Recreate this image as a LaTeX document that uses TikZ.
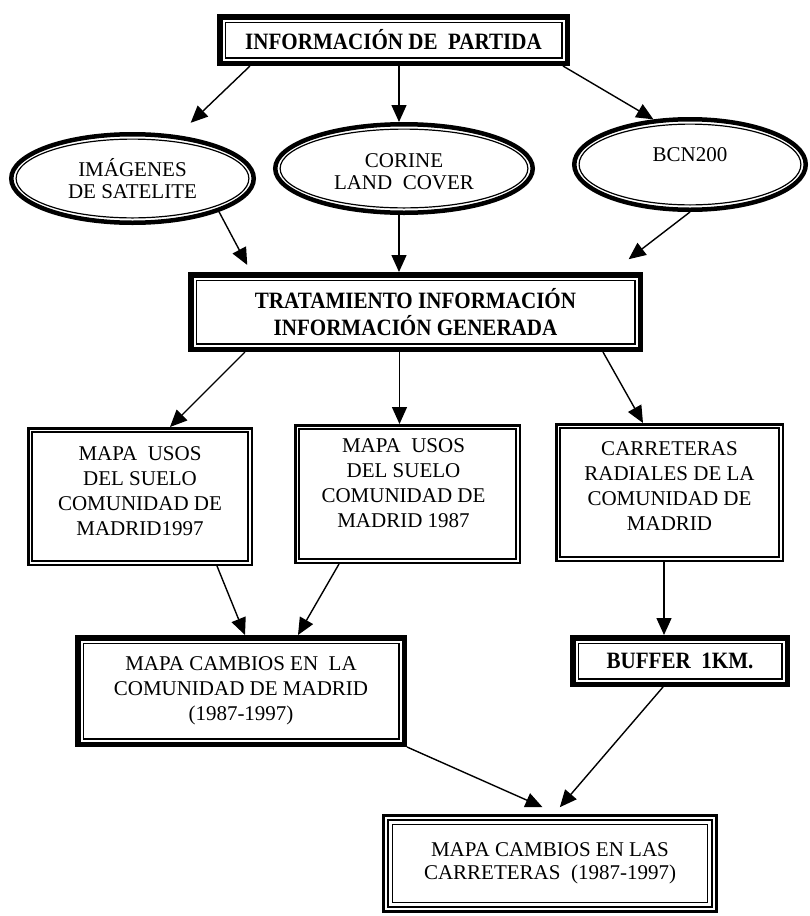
\documentclass[tikz,border=0pt]{standalone}
\usepackage{fontspec}
\setmainfont{Liberation Serif}[BoldFeatures={FakeStretch=0.9}]
\usetikzlibrary{arrows.meta,shapes.geometric,calc}
\tikzset{
  heavy/.style={draw, line width=5.5pt, rectangle, inner sep=0pt},
  light/.style={draw, line width=2.5pt, rectangle, inner sep=0pt},
  finbox/.style={draw, line width=3pt, rectangle, inner sep=0pt},
  oval/.style={draw, line width=4.5pt, ellipse, inner sep=0pt},
  inline/.style={line width=1.2pt},
  txt/.style={font=\fontsize{21}{25}\selectfont, align=center, inner sep=0pt},
  etxt/.style={font=\fontsize{21}{22}\selectfont, align=center, inner sep=0pt},
  btxt/.style={font=\bfseries\fontsize{23.4}{27.5}\selectfont, align=center},
  arr/.style={line width=1.4pt, -{Triangle[length=17pt,width=15pt]}},
}
\newcommand\innerrect[2]{\draw[inline] ([shift={(#2,#2)}]#1.north west) rectangle ([shift={(-#2,-#2)}]#1.south east);}
\begin{document}
\begin{tikzpicture}[x=1pt,y=-1pt]
\useasboundingbox (0,0) rectangle (809,916);

% top box
\node[heavy, btxt, minimum width=347.5pt, minimum height=46.5pt] (top) at (393.5,40) {INFORMACIÓN DE\ \ PARTIDA};
\innerrect{top}{8.1}

% ellipses
\node[oval, minimum width=242.5pt, minimum height=88.5pt] (e1) at (132.5,178.5) {};
\draw[inline] (e1.center) ellipse [x radius=116.4pt, y radius=39.4pt];
\node[etxt] (e1t) at (e1.center) {IMÁGENES\\DE SATELITE};

\node[oval, minimum width=257.5pt, minimum height=88.5pt] (e2) at (404,168.5) {};
\draw[inline] (e2.center) ellipse [x radius=123.9pt, y radius=39.4pt];
\node[etxt] (e2t) at ([yshift=-3pt]e2.center) {CORINE\\LAND\ \ COVER};

\node[oval, minimum width=231.5pt, minimum height=90.5pt] (e3) at (690,164.5) {};
\draw[inline] (e3.center) ellipse [x radius=110.9pt, y radius=40.4pt];
\node[etxt] (e3t) at ([yshift=9.5pt]e3.center) {BCN200};

% treatment box
\node[heavy, btxt, minimum width=449.5pt, minimum height=74.5pt] (trat) at (415.5,312) {TRATAMIENTO INFORMACIÓN\\INFORMACIÓN GENERADA};
\innerrect{trat}{8.1}

% row of boxes
\node[light, minimum width=223.5pt, minimum height=136.5pt] (b1) at (140,496.5) {};
\innerrect{b1}{5}
\node[txt] (b1t) at ([yshift=5.5pt]b1.center) {MAPA\ \ USOS\\DEL SUELO\\COMUNIDAD DE\\MADRID1997};

\node[light, minimum width=224.5pt, minimum height=137.5pt] (b2) at (407.5,494) {};
\innerrect{b2}{5}
\node[txt] (b2t) at ([xshift=-4pt,yshift=11pt]b2.center) {MAPA\ \ USOS\\DEL SUELO\\COMUNIDAD DE\\MADRID 1987};

\node[light, minimum width=226.5pt, minimum height=136.5pt] (b3) at (669.5,492.5) {};
\innerrect{b3}{5}
\node[txt] (b3t) at ([yshift=6.5pt]b3.center) {CARRETERAS\\RADIALES DE LA\\COMUNIDAD DE\\MADRID};

% changes box
\node[heavy, txt, minimum width=326.5pt, minimum height=106.5pt] (mc) at (241,691) {MAPA CAMBIOS EN\ \ LA\\COMUNIDAD DE MADRID\\(1987-1997)};
\innerrect{mc}{8.1}

% buffer box
\node[heavy, btxt, minimum width=214.5pt, minimum height=46.5pt] (buf) at (680,661) {BUFFER\ \ 1KM.};
\innerrect{buf}{8.1}

% final box
\node[finbox, font=\fontsize{21}{23}\selectfont, align=center, minimum width=333pt, minimum height=96pt] (fin) at (550,863.5) {MAPA CAMBIOS EN LAS\\CARRETERAS\ \ (1987-1997)};
\draw[line width=2pt] ([shift={(6,6)}]fin.north west) rectangle ([shift={(-6,-6)}]fin.south east);
\draw[line width=1pt] ([shift={(10.5,10.5)}]fin.north west) rectangle ([shift={(-10.5,-10.5)}]fin.south east);

% connectors
\coordinate (e2in) at ([xshift=-5pt]e2.north);
\coordinate (e2out) at ([xshift=-5pt]e2.south);
\draw[arr, shorten >=18pt] ([xshift=33pt]top.south west) -- (e1);
\draw[arr] (top.south -| e2in) -- (e2in);
\draw[arr] ([xshift=-7pt]top.south east) -- (e3.129);

\draw[arr, shorten >=8pt] (e1.-21) -- ([xshift=63pt]trat.north west);
\draw[arr] (e2out) -- (e2out |- trat.north);
\draw[arr, shorten >=21pt] (e3.south) -- ([xshift=-31pt]trat.north east);

\coordinate (b2in) at ([xshift=-8pt]b2.north);
\draw[arr] ([xshift=57pt]trat.south west) -- ([xshift=143pt]b1.north west);
\draw[arr] (trat.south -| b2in) -- (b2in);
\draw[arr] ([xshift=-40pt]trat.south east) -- ([xshift=88pt]b3.north west);

\coordinate (b3out) at ([xshift=-5.5pt]b3.south);
\draw[arr] ([xshift=190pt]b1.south west) -- ([xshift=170pt]mc.north west);
\draw[arr] ([xshift=45pt]b2.south west) -- ([xshift=223pt]mc.north west);
\draw[arr] (b3out) -- (b3out |- buf.north);

\draw[arr, shorten >=17pt] (mc.south east) -- ([xshift=176pt]fin.north west);
\draw[arr, shorten >=9pt] ([xshift=93pt]buf.south west) -- ([xshift=172pt]fin.north west);
\end{tikzpicture}
\end{document}
